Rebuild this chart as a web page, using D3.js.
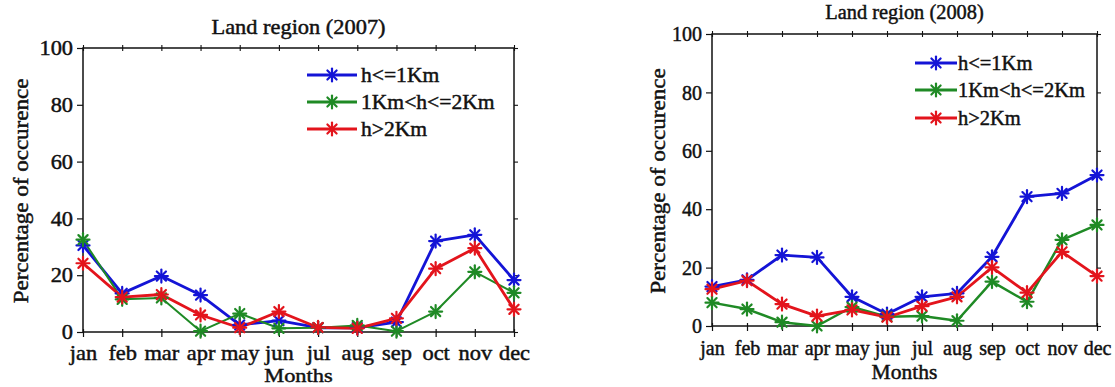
<!DOCTYPE html>
<html>
<head>
<meta charset="utf-8">
<script src="https://cdn.jsdelivr.net/npm/d3@7"></script>
<style>
  html, body { margin: 0; padding: 0; background: #fff; }
  svg { display: block; }
  svg text { font-family: "Liberation Serif", "Times New Roman", serif !important; fill: #111; stroke: #111; stroke-width: 0.45px; }
</style>
</head>
<body>
<svg id="chart" width="1115" height="387"></svg>
<script>
// ---------- data ----------
const months = ["jan","feb","mar","apr","may","jun","jul","aug","sep","oct","nov","dec"];
const yTicks = [0, 20, 40, 60, 80, 100];
const seriesNames = ["h<=1Km", "1Km<h<=2Km", "h>2Km"];
const seriesColors = ["#1414d6", "#1f8a25", "#e3141c"];

const titles = ["Land region (2007)", "Land region (2008)"];
const xLabel = "Months";
const yLabel = "Percentage of occurence";

// 2007
const low2007 = [30.5, 13.6, 19.7, 13.0, 2.5, 4.0, 1.5, 1.5, 3.5, 32.0, 34.2, 18.3];
const mid2007 = [32.5, 11.5, 12.0, 0.3, 6.5, 1.3, 1.5, 2.3, 0.3, 7.2, 21.2, 13.8];
const high2007 = [24.2, 12.3, 13.2, 6.0, 1.5, 7.2, 1.6, 1.3, 4.8, 22.3, 29.5, 8.0];
// 2008
const low2008 = [13.5, 15.8, 24.3, 23.5, 10.0, 4.1, 10.0, 11.2, 23.7, 44.3, 45.4, 51.7];
const mid2008 = [8.0, 5.8, 1.3, 0.0, 6.5, 3.2, 3.4, 1.8, 15.2, 8.3, 29.5, 34.6];
const high2008 = [12.6, 15.5, 7.5, 3.4, 5.5, 3.0, 6.8, 10.0, 20.1, 11.4, 25.4, 17.1];

// ---------- layout ----------
const panels = [
  {
    series: [low2007, mid2007, high2007], title: titles[0],
    left: 83, right: 514, top: 48, bottom: 332,
    sx: 1.12, tickFont: 20, titleFont: 20, titleSx: 1.12, legFont: 20, legSx: 1.08,
    yLabFont: 20, yLabSx: 1.15, xLabFont: 19.5, xLabSx: 1.15,
    titleY: 34, xTickY: 360, xLabY: 382, yLabX: 21, yLabY: 191,
    leg: { x0: 307, x1: 357, tx: 361, ys: [75, 102, 129] },
    widths: [2.8, 2.0, 2.8]
  },
  {
    series: [low2008, mid2008, high2008], title: titles[1],
    left: 712, right: 1097, top: 34, bottom: 326,
    sx: 1.0, tickFont: 20, titleFont: 20, titleSx: 1.02, legFont: 20.5, legSx: 1.0,
    yLabFont: 21, yLabSx: 1.1, xLabFont: 20.5, xLabSx: 1.05,
    titleY: 19, xTickY: 355, xLabY: 379, yLabX: 658, yLabY: 181,
    leg: { x0: 915, x1: 957, tx: 958, ys: [63, 90, 118] },
    widths: [2.8, 2.5, 2.8]
  }
];

const svg = d3.select("#chart");

function star(g, cx, cy, r, color, w) {
  [0, 45, 90, 135].forEach(a => {
    const rad = a * Math.PI / 180;
    g.append("line")
      .attr("x1", cx - r * Math.cos(rad)).attr("y1", cy - r * Math.sin(rad))
      .attr("x2", cx + r * Math.cos(rad)).attr("y2", cy + r * Math.sin(rad))
      .attr("stroke", color).attr("stroke-width", w).attr("stroke-linecap", "round");
  });
}

function stretchedText(g, x, y, txt, size, sx, anchor) {
  return g.append("text")
    .attr("x", x / sx).attr("y", y)
    .attr("transform", `scale(${sx},1)`)
    .attr("font-size", size)
    .attr("text-anchor", anchor)
    .text(txt);
}

panels.forEach(p => {
  const g = svg.append("g");
  const x = d3.scalePoint().domain(months).range([p.left, p.right]);
  const y = d3.scaleLinear().domain([0, 100]).range([p.bottom, p.top]);

  // frame
  g.append("rect")
    .attr("x", p.left).attr("y", p.top)
    .attr("width", p.right - p.left).attr("height", p.bottom - p.top)
    .attr("fill", "none").attr("stroke", "#111").attr("stroke-width", 1.5);

  // bottom axis
  const bx = g.append("g").attr("transform", `translate(0,${p.bottom})`)
    .call(d3.axisBottom(x).tickSizeInner(5).tickSizeOuter(0).tickPadding(0));
  bx.attr("font-family", null).attr("font-size", null);
  bx.select(".domain").remove();
  bx.selectAll(".tick line").attr("stroke", "#111").attr("stroke-width", 1.2).attr("y1", -3);
  bx.selectAll(".tick text")
    .attr("y", p.xTickY - p.bottom).attr("dy", null)
    .attr("font-size", p.tickFont)
    .attr("transform", `scale(${p.sx},1)`);

  // top ticks
  const tx = g.append("g").attr("transform", `translate(0,${p.top})`)
    .call(d3.axisTop(x).tickSizeInner(3).tickSizeOuter(0).tickFormat(""));
  tx.select(".domain").remove();
  tx.selectAll(".tick line").attr("stroke", "#111").attr("stroke-width", 1.1).attr("y1", 3);

  // left axis
  const ly = g.append("g").attr("transform", `translate(${p.left},0)`)
    .call(d3.axisLeft(y).tickValues(yTicks).tickSizeInner(6).tickSizeOuter(0).tickPadding(0));
  ly.attr("font-family", null).attr("font-size", null);
  ly.select(".domain").remove();
  ly.selectAll(".tick line").attr("stroke", "#111").attr("stroke-width", 1.2);
  ly.selectAll(".tick text")
    .attr("x", -10 / p.sx).attr("dy", "0.33em")
    .attr("font-size", p.tickFont)
    .attr("transform", `scale(${p.sx},1)`);

  // right ticks
  const ry = g.append("g").attr("transform", `translate(${p.right},0)`)
    .call(d3.axisRight(y).tickValues(yTicks).tickSizeInner(4).tickSizeOuter(0).tickFormat(""));
  ry.select(".domain").remove();
  ry.selectAll(".tick line").attr("stroke", "#111").attr("stroke-width", 1.1);

  // title & axis labels
  stretchedText(g, (p.left + p.right) / 2, p.titleY, p.title, p.titleFont, p.titleSx, "middle");
  stretchedText(g, (p.left + p.right) / 2, p.xLabY, xLabel, p.xLabFont, p.xLabSx, "middle");
  g.append("text")
    .attr("transform", `translate(${p.yLabX},${p.yLabY}) rotate(-90) scale(${p.yLabSx},1)`)
    .attr("text-anchor", "middle").attr("dy", "0.35em")
    .attr("font-size", p.yLabFont)
    .text(yLabel);

  // series
  const line = d3.line().x((d, i) => x(months[i])).y(d => y(d));
  p.series.forEach((s, si) => {
    g.append("path").datum(s)
      .attr("d", line)
      .attr("fill", "none")
      .attr("stroke", seriesColors[si])
      .attr("stroke-width", p.widths[si])
      .attr("stroke-linejoin", "round");
  });
  p.series.forEach((s, si) => {
    const mg = g.append("g");
    s.forEach((v, i) => star(mg, x(months[i]), y(v), 6.5, seriesColors[si], 2.2));
  });

  // legend
  seriesNames.forEach((name, si) => {
    const yy = p.leg.ys[si];
    g.append("line")
      .attr("x1", p.leg.x0).attr("x2", p.leg.x1).attr("y1", yy).attr("y2", yy)
      .attr("stroke", seriesColors[si]).attr("stroke-width", 2.8);
    star(g, (p.leg.x0 + p.leg.x1) / 2, yy, 6.5, seriesColors[si], 2.2);
    stretchedText(g, p.leg.tx, yy, name, p.legFont, p.legSx, "start").attr("dy", "0.35em");
  });
});
</script>
</body>
</html>
